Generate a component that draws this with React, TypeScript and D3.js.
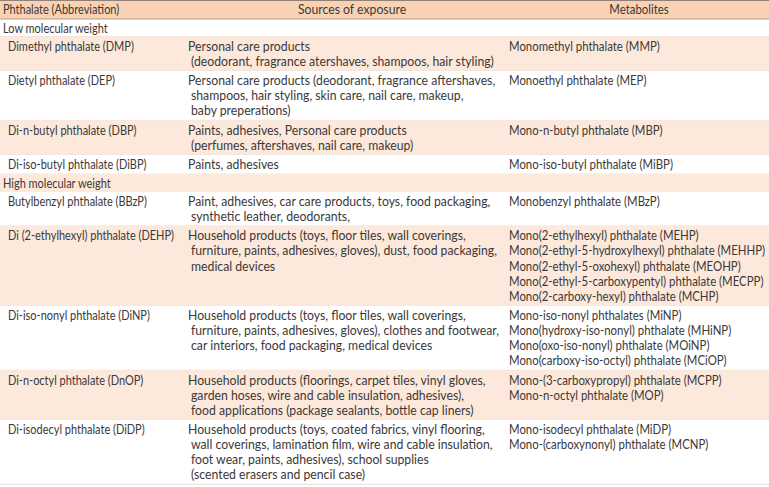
import React, { useLayoutEffect, useRef, useState } from "react";
import * as d3 from "d3";

const headers = ["Phthalate (Abbreviation)", "Sources of exposure", "Metabolites"];
const groupLabels = ["Low molecular weight", "High molecular weight"];
const groupOf = [0, 0, 0, 0, 1, 1, 1, 1, 1];
const phthalates = [
  "Dimethyl phthalate (DMP)",
  "Dietyl phthalate (DEP)",
  "Di-n-butyl phthalate (DBP)",
  "Di-iso-butyl phthalate (DiBP)",
  "Butylbenzyl phthalate (BBzP)",
  "Di (2-ethylhexyl) phthalate (DEHP)",
  "Di-iso-nonyl phthalate (DiNP)",
  "Di-n-octyl phthalate (DnOP)",
  "Di-isodecyl phthalate (DiDP)",
];
const sources = [
  ["Personal care products", "(deodorant, fragrance atershaves, shampoos, hair styling)"],
  ["Personal care products (deodorant, fragrance aftershaves,", "shampoos, hair styling, skin care, nail care, makeup,", "baby preperations)"],
  ["Paints, adhesives, Personal care products", "(perfumes, aftershaves, nail care, makeup)"],
  ["Paints, adhesives"],
  ["Paint, adhesives, car care products, toys, food packaging,", "synthetic leather, deodorants,"],
  ["Household products (toys, floor tiles, wall coverings,", "furniture, paints, adhesives, gloves), dust, food packaging,", "medical devices"],
  ["Household products (toys, floor tiles, wall coverings,", "furniture, paints, adhesives, gloves), clothes and footwear,", "car interiors, food packaging, medical devices"],
  ["Household products (floorings, carpet tiles, vinyl gloves,", "garden hoses, wire and cable insulation, adhesives),", "food applications (package sealants, bottle cap liners)"],
  ["Household products (toys, coated fabrics, vinyl flooring,", "wall coverings, lamination film, wire and cable insulation,", "foot wear, paints, adhesives), school supplies", "(scented erasers and pencil case)"],
];
const metabolites = [
  ["Monomethyl phthalate (MMP)"],
  ["Monoethyl phthalate (MEP)"],
  ["Mono-n-butyl phthalate (MBP)"],
  ["Mono-iso-butyl phthalate (MiBP)"],
  ["Monobenzyl phthalate (MBzP)"],
  ["Mono(2-ethylhexyl) phthalate (MEHP)", "Mono(2-ethyl-5-hydroxylhexyl) phthalate (MEHHP)", "Mono(2-ethyl-5-oxohexyl) phthalate (MEOHP)", "Mono(2-ethyl-5-carboxypentyl) phthalate (MECPP)", "Mono(2-carboxy-hexyl) phthalate (MCHP)"],
  ["Mono-iso-nonyl phthalates (MiNP)", "Mono(hydroxy-iso-nonyl) phthalate (MHiNP)", "Mono(oxo-iso-nonyl) phthalate (MOiNP)", "Mono(carboxy-iso-octyl) phthalate (MCiOP)"],
  ["Mono-(3-carboxypropyl) phthalate (MCPP)", "Mono-n-octyl phthalate (MOP)"],
  ["Mono-isodecyl phthalate (MiDP)", "Mono-(carboxynonyl) phthalate (MCNP)"],
];

type Row = { kind: "header" | "group" | "data"; idx: number; lines: number };

export default function App() {
  const W = 769, H = 487;
  const LH = 15.1, PAD = 4.2, HEADER_H = 19, GROUP_H = 17.5;
  const FS = 13.5;
  // widest body text per column should span this many pixels
  const FIT = [166, 308, 256];
  const svgRef = useRef<SVGSVGElement>(null);
  const [SX, setSX] = useState<number[]>([0.85, 0.9, 0.83]);

  useLayoutEffect(() => {
    const measure = () => {
      const svg = svgRef.current;
      if (!svg) return;
      const next = [0, 1, 2].map((c) => {
        let m = 0;
        svg.querySelectorAll(`text.body.col${c}`).forEach((n) => {
          m = Math.max(m, (n as SVGTextElement).getComputedTextLength());
        });
        return m > 0 ? FIT[c] / m : 0.85;
      });
      setSX((prev) => (prev.every((v, i) => Math.abs(v - next[i]) < 1e-4) ? prev : next));
    };
    measure();
    if ((document as any).fonts?.ready) (document as any).fonts.ready.then(measure);
  }, []);

  const textColor = "#3b3838";
  const headerBg = "#f9d2b3";
  const lightBg = "#fde9db";

  const rows: Row[] = [{ kind: "header", idx: 0, lines: 1 }];
  phthalates.forEach((_, i) => {
    if (i === 0 || groupOf[i] !== groupOf[i - 1]) rows.push({ kind: "group", idx: groupOf[i], lines: 1 });
    rows.push({ kind: "data", idx: i, lines: Math.max(sources[i].length, metabolites[i].length) });
  });
  const heights = rows.map((r) => (r.kind === "header" ? HEADER_H : r.kind === "group" ? GROUP_H : r.lines * LH + PAD));
  const tops = [0, ...Array.from(d3.cumsum(heights))];

  const x = d3.scaleOrdinal<string, number>().domain(["c1", "c1i", "c2", "c3"]).range([3, 8, 188, 509]);
  const yLine = d3.scaleLinear().domain([0, 1]).range([0, LH]);

  const T = (key: string, tx: number, ty: number, s: string, col: number, body: boolean, anchor = "start") => (
    <g key={key} transform={`translate(${tx},${ty}) scale(${SX[col]},1)`}>
      <text
        className={`${body ? "body " : ""}col${col}`}
        x={0}
        y={0}
        textAnchor={anchor}
        fontSize={FS}
        fill={textColor}
        fontFamily="Lato, 'Open Sans', sans-serif"
        style={{ whiteSpace: "pre" }}
      >
        {s}
      </text>
    </g>
  );

  let alt = 0;
  const items: React.ReactNode[] = [];
  rows.forEach((r, ri) => {
    const top = tops[ri];
    const h = heights[ri];
    const base = top + 13.5;
    if (r.kind === "header") {
      items.push(<rect key={"bg" + ri} x={0} y={top} width={W} height={h} fill={headerBg} />);
      items.push(T("h0", x("c1"), base, headers[0], 0, false));
      items.push(T("h1", 352, base, headers[1], 1, false, "middle"));
      items.push(T("h2", 639, base, headers[2], 2, false, "middle"));
      return;
    }
    const fill = alt % 2 === 1 ? lightBg : "#ffffff";
    alt++;
    items.push(<rect key={"bg" + ri} x={0} y={top} width={W} height={h} fill={fill} />);
    if (r.kind === "group") {
      items.push(T("g" + ri, x("c1"), base, groupLabels[r.idx], 0, false));
    } else {
      const i = r.idx;
      const b = base + 0.8;
      items.push(T("p" + ri, x("c1i"), b, phthalates[i], 0, true));
      sources[i].forEach((s, k) => items.push(T(`s${ri}-${k}`, x("c2") + (k > 0 ? 3 : 0), b + yLine(k), s, 1, true)));
      metabolites[i].forEach((s, k) => items.push(T(`m${ri}-${k}`, x("c3"), b + yLine(k), s, 2, true)));
    }
    items.push(<line key={"sep" + ri} x1={0} x2={W} y1={top + h} y2={top + h} stroke="#e4d9d1" strokeWidth={0.8} />);
  });

  return (
    <svg ref={svgRef} width={W} height={H} style={{ position: "absolute", left: 0, top: 0, background: "#fff" }}>
      {items}
      <line x1={0} x2={W} y1={0.5} y2={0.5} stroke="#8f8178" strokeWidth={1} />
      <line x1={0} x2={W} y1={HEADER_H} y2={HEADER_H} stroke="#b39c8b" strokeWidth={1} />
    </svg>
  );
}
